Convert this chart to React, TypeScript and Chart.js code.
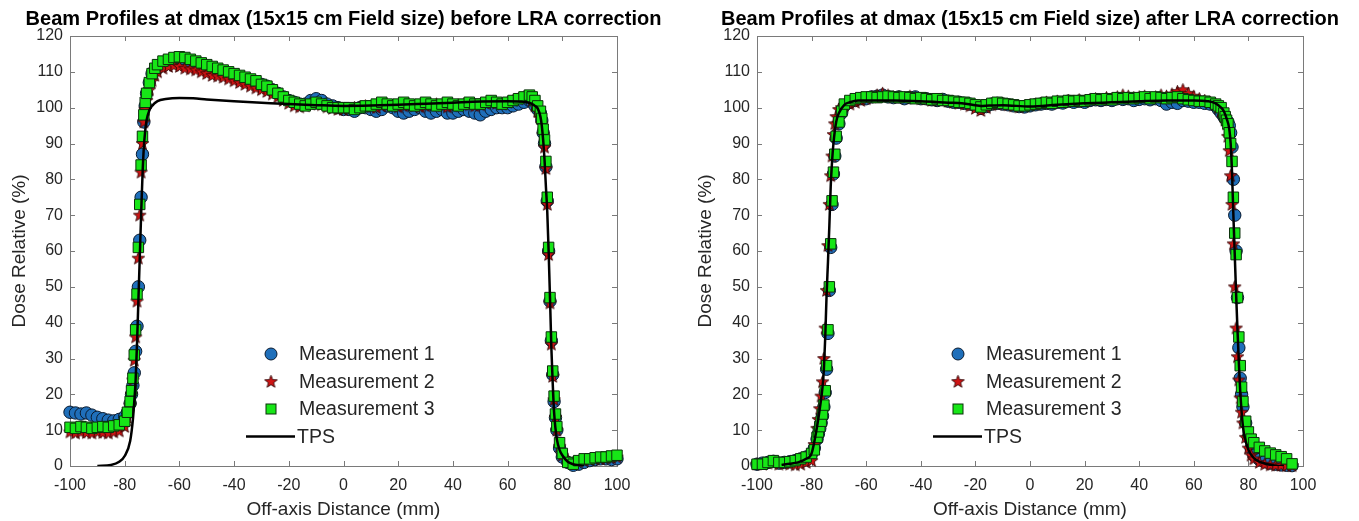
import React, { useEffect, useRef } from "react";
import { Chart, registerables } from "chart.js";
Chart.register(...registerables);

// ---------- text ----------
const titleBefore = "Beam Profiles at dmax (15x15 cm Field size) before LRA correction";
const titleAfter = "Beam Profiles at dmax (15x15 cm Field size) after LRA correction";
const xAxisTitle = "Off-axis Distance (mm)";
const yAxisTitle = "Dose Relative (%)";
const seriesNames = ["Measurement 1", "Measurement 2", "Measurement 3", "TPS"];

// ---------- ticks ----------
const xTickValues = [-100, -80, -60, -40, -20, 0, 20, 40, 60, 80, 100];
const yTickValues = [0, 10, 20, 30, 40, 50, 60, 70, 80, 90, 100, 110, 120];

// ---------- before LRA correction ----------
const beforeX = [
  -100, -98, -96, -94, -92, -90, -88, -86, -84, -82,
  -80, -79, -78,
  -77.5, -77, -76.5, -76, -75.5, -75, -74.5, -74, -73.5, -73, -72.5, -72,
  -71, -70, -69,
  -68, -66, -64, -62, -60, -58, -56, -54, -52, -50,
  -48, -46, -44, -42, -40, -38, -36, -34, -32, -30,
  -28, -26, -24, -22, -20, -18, -16, -14, -12, -10,
  -8, -6, -4, -2, 0, 2, 4, 6, 8, 10,
  12, 14, 16, 18, 20, 22, 24, 26, 28, 30,
  32, 34, 36, 38, 40, 42, 44, 46, 48, 50,
  52, 54, 56, 58, 60, 62, 64, 66, 68,
  69, 70, 71, 72,
  72.5, 73, 73.5, 74, 74.5, 75, 75.5, 76, 76.5, 77, 77.5, 78,
  79, 80,
  82, 84, 86, 88, 90, 92, 94, 96, 98, 100,
];
const beforeM1 = [
  15, 14.8, 14.5, 14.8, 14.2, 13.6, 13.2, 12.8, 12.6, 13,
  13.8, 15, 17.5,
  20, 22.5, 26, 32, 39, 50, 63, 75, 87, 96, 100.5, 104,
  107, 109.5, 110.5,
  111, 112, 112.5, 113, 113, 112.8, 112.5, 112, 111.5, 111,
  110.5, 110, 109.8, 109.5, 109, 108.5, 108, 107.5, 107, 106.5,
  106, 105, 104, 103, 102, 101.5, 101, 101, 102, 102.5,
  102, 101, 100.5, 100, 99.5, 99.5, 99, 100, 100, 99.5,
  99, 99.5, 100.5, 100, 99, 98.5, 99, 99.5, 100, 99,
  98.5, 99, 99.5, 98.5, 98.5, 99, 99.5, 99, 98.5, 98,
  99, 99.5, 100, 100, 100, 100.5, 101, 101.5, 102,
  101.5, 100.5, 99.5, 98.5,
  96.5, 93, 90, 83.5, 74, 60, 46, 35, 25.5, 18, 13.5, 10,
  5, 2.5,
  1, 0.2, 0.5, 1, 1.5, 1.8, 2, 2, 1.8, 2,
];
const beforeM2 = [
  9.5, 9.2, 9.5, 9.3, 9.2, 9.5, 9.3, 9.2, 9.5, 9.8,
  11, 13.5, 17,
  20, 24, 29.5, 36, 46, 58, 70, 82, 90, 96, 99.5, 102,
  105, 107.5, 109,
  110, 111, 111.5, 111.8, 111.5, 111, 110.8, 110.5, 110, 109.5,
  109, 108.8, 108.5, 108, 107.5, 107, 106.5, 106, 105.5, 105,
  104.5, 103.8, 103, 102, 101.2, 100.5, 100.2, 100.5, 101, 101.2,
  100.8, 100.2, 99.8, 99.5, 99.5, 99.8, 100, 100.2, 100.5, 100.2,
  100, 100.5, 100.8, 100.5, 100.2, 100.5, 100.8, 100.5, 100.2, 100.5,
  100.8, 101, 100.5, 100.2, 100.5, 100.8, 101, 100.8, 100.5, 100.8,
  101.2, 101.5, 101.2, 101, 101.5, 102, 102.5, 103, 103,
  102, 100.5, 99, 97,
  95.5, 92.5, 89, 83, 73, 59, 45.5, 34, 25, 18.5, 13.5, 10,
  5.5, 3,
  1.5, 1, 1.2, 1.5, 1.8, 2, 2, 2.2, 2.3, 2.5,
];
const beforeM3 = [
  10.8, 10.5, 11, 10.8, 10.5, 10.8, 11, 10.8, 11.2, 11.5,
  12.5, 15, 18,
  21, 24.5, 31, 38, 48, 61, 73, 84, 92, 98, 101.5, 104,
  107, 109.5, 111,
  112, 113, 113.5, 114, 114.2, 114, 113.5, 113, 112.5, 112,
  111.5, 111, 110.5, 110, 109.5, 109, 108.5, 108, 107.5, 106.5,
  106, 105, 104, 103, 102, 101.5, 101, 100.5, 101, 101.5,
  101, 100.5, 100, 100, 100, 100, 99.5, 100, 100.5, 100.5,
  101, 101.5, 101, 100.5, 101, 101.5, 101, 100.5, 101, 101.5,
  101, 100.5, 101, 101.5, 101, 100.5, 101, 101.5, 101, 101,
  101.5, 102, 101.5, 101, 101.5, 102, 102.5, 103, 103.5,
  103, 102, 100.5, 99,
  97, 94, 91, 85, 75, 61, 47, 36, 26.5, 19.5, 14.5, 11,
  6.5, 3.5,
  1, 0.5, 1.5, 2, 2, 2.3, 2.5, 2.5, 2.8, 3,
];
const beforeTpsX = [
  -90, -85, -82, -80, -78,
  -77, -76.5, -76, -75.5, -75, -74.5, -74, -73.5, -73, -72.5, -72,
  -71, -70, -68, -65, -60, -55, -50,
  -40, -30, -20, -10, 0, 10, 20, 30, 40, 50, 60,
  65, 67, 68, 69, 70, 71, 72,
  72.5, 73, 73.5, 74, 74.5, 75, 75.5, 76, 76.5, 77, 77.5, 78,
  79, 80, 82, 84, 86, 88,
];
const beforeTpsY = [
  0, 0.3, 1.2, 2.8, 7,
  13, 18, 24, 34, 46, 58, 70, 81, 89, 93.5, 96.5,
  99.2, 100.5, 101.8, 102.4, 102.7, 102.6, 102.3,
  101.8, 101.4, 101, 100.7, 100.5, 100.6, 100.8, 101.1, 101.4, 101.7, 101.8,
  101.7, 101.5, 101.3, 101, 100.5, 99.8, 97.5,
  95, 91, 85.5, 78, 71, 60, 47, 33, 23, 15, 10.5, 7.5,
  4.5, 3, 1.2, 0.5, 0.2, 0,
];

// ---------- after LRA correction ----------
const afterX = [
  -100, -98, -96, -94, -92, -90, -88, -86, -84, -82,
  -80, -79, -78,
  -77.5, -77, -76.5, -76, -75.5, -75, -74.5, -74, -73.5, -73, -72.5, -72, -71.5, -71,
  -70, -69,
  -68, -66, -64, -62, -60, -58, -56, -54, -52, -50,
  -48, -46, -44, -42, -40, -38, -36, -34, -32, -30,
  -28, -26, -24, -22, -20, -18, -16, -14, -12, -10,
  -8, -6, -4, -2, 0, 2, 4, 6, 8, 10,
  12, 14, 16, 18, 20, 22, 24, 26, 28, 30,
  32, 34, 36, 38, 40, 42, 44, 46, 48, 50,
  52, 54, 56, 58, 60, 62, 64, 66, 68,
  69, 70, 71,
  71.5, 72, 72.5, 73, 73.5, 74, 74.5, 75, 75.5, 76, 76.5, 77, 77.5, 78,
  79, 80, 81,
  82, 84, 86, 88, 90, 92, 94, 96,
];
const afterM1 = [
  0.5, 0.8, 1, 1.3, 0.8, 1, 1.2, 1.5, 2, 2.5,
  3.5, 5, 7.5,
  9, 10.5, 12, 14, 16.5, 20.5, 27, 37, 49, 61, 73, 81.5, 86.5, 91.5,
  95.5, 98.5,
  100.5, 101.5, 102, 102.5, 102.5, 103, 103.2, 103.5, 103, 102.8,
  103, 102.5, 102.8, 103, 102.5, 102.5, 102.2, 102, 102.3, 101.8,
  101.5, 101.5, 101.2, 101, 100.5, 99.8, 100.3, 101, 101.2, 101,
  100.8, 100.5, 100.3, 100.2, 100.5, 100.8, 101, 101.2, 101, 101.5,
  101.3, 101.8, 101.5, 101.8, 101.5, 102, 102.2, 102, 102.3, 102,
  102.5, 102.3, 102.5, 102, 102.3, 102.5, 102.2, 102.5, 102, 101,
  101.5, 101.2, 102, 101.8, 101.5, 101.5, 101.2, 101, 100.5,
  99.5, 98.5, 97.5,
  97, 96.5, 96, 95, 93, 89, 80, 70, 60, 47, 33, 24.5, 20, 16.5,
  12, 8, 5,
  3, 1.8, 1.2, 0.8, 0.5, 0.3, 0.2, 0.1,
];
const afterM2 = [
  0.5, 0.5, 0.8, 1, 0.5, 0.8, 0.5, 0.3, 0.5, 1,
  1.5, 6, 10.5,
  13, 16, 19.5, 23.5, 30, 38.5, 49, 61.5, 73, 81, 86.5, 92.5, 95.5, 97.5,
  99.5, 100,
  100.5, 101, 101.5, 102, 102.5, 103, 103.5, 104, 103.5, 103,
  103, 102.8, 103.2, 102.8, 102.5, 102.5, 102, 102.2, 102, 101.8,
  101.5, 101.2, 101, 100.5, 99.8, 99.2, 100, 100.8, 101, 101.2,
  100.8, 100.5, 100.2, 100.5, 100.8, 101, 101.2, 101.5, 101.2, 101.8,
  101.5, 102, 101.8, 102.2, 101.8, 102.3, 102.5, 102.2, 102.8, 102.5,
  103, 103.5, 103.2, 102.8, 103, 103.2, 102.8, 103, 103.5, 103.2,
  103.8, 104.5, 105, 104, 103.2, 102.5, 102, 101.5, 101,
  100, 99, 97.5,
  96.5, 95.5, 92, 88, 81, 73, 62, 50, 38.5, 30.5, 24, 19, 15, 12,
  8, 5, 3,
  2, 1, 0.5, 0.3, 0.2, 0.2, 0.1, 0.1,
];
const afterM3 = [
  0.5, 0.5, 1, 1.5, 1, 1, 1.2, 1.5, 2, 2.5,
  3.5, 4.5, 8,
  9.5, 11, 12.5, 14.5, 17, 21, 28, 38, 50, 62, 74, 82, 87, 92,
  96, 99,
  101, 102, 102.5, 102.8, 103, 103, 102.8, 103, 103.2, 103,
  102.8, 103, 102.8, 102.5, 102.8, 102.5, 102.2, 102.5, 102, 102,
  101.8, 101.5, 101.5, 101.2, 100.8, 100.2, 100.8, 101.2, 101.5, 101.2,
  101, 100.8, 100.5, 100.5, 100.8, 101, 101.2, 101.5, 101.2, 101.8,
  101.5, 102, 101.8, 102, 101.8, 102.2, 102.5, 102.2, 102.5, 102.2,
  102.8, 102.5, 102.8, 102.5, 102.8, 103, 102.5, 103, 102.8, 102.5,
  102.8, 103, 102.5, 102.2, 102, 101.8, 101.8, 101.5, 101,
  100.5, 100, 98.5,
  97.5, 96.5, 95.5, 93, 90, 85, 75, 65, 59, 47, 36, 28, 22, 18,
  12.5, 9.5, 7.5,
  6.5, 5.2, 4.2, 3.6, 3.1, 2.6, 2, 0.6,
];
const afterTpsX = [
  -91, -88, -85, -82, -80, -78,
  -77, -76, -75.5, -75, -74.5, -74, -73.5, -73, -72.5, -72,
  -71, -70, -68, -66, -63, -60,
  -50, -40, -30, -25, -20, -18, -15, -10,
  0, 10, 20, 30, 40, 50, 60,
  65, 68, 70, 71, 72, 73,
  73.5, 74, 74.5, 75, 75.5, 76, 76.5, 77,
  78, 79, 80, 82, 84, 87, 90, 93,
];
const afterTpsY = [
  0.3, 0.6, 1, 2, 3.5, 11,
  16, 22, 27, 36, 48, 57, 67, 78, 85, 90,
  96, 98.5, 100.8, 101.5, 102, 102,
  102, 101.8, 101.4, 101.2, 100.7, 100.5, 100.6, 100.7,
  100.3, 100.8, 101.2, 101.5, 101.8, 102, 102,
  101.8, 101.2, 100, 99, 97, 94,
  90, 82, 70, 59, 48, 38, 29, 21,
  11, 7, 4.5, 2.2, 1.2, 0.5, 0.1, 0,
];

// ---------- styling ----------
const FONT = '"Liberation Sans", Arial, Helvetica, sans-serif';
const TEXT = "#262626";
const AXIS = "#7a7a7a";
const BLUE = "#1f6fba";
const GREEN = "#17e617";
const RED = "#cf1414";
const BLUE_EDGE = "#0a1a2e";
const GREEN_EDGE = "#0b300b";

function makeStar(): HTMLCanvasElement {
  const c = document.createElement("canvas");
  c.width = 15;
  c.height = 15;
  const g = c.getContext("2d")!;
  const cx = 7.5, cy = 7.9, R = 6.6, r = 2.8;
  g.beginPath();
  for (let i = 0; i < 10; i++) {
    const rad = i % 2 === 0 ? R : r;
    const a = -Math.PI / 2 + (i * Math.PI) / 5;
    const px = cx + rad * Math.cos(a);
    const py = cy + rad * Math.sin(a);
    if (i === 0) g.moveTo(px, py);
    else g.lineTo(px, py);
  }
  g.closePath();
  g.fillStyle = RED;
  g.fill();
  g.lineWidth = 0.9;
  g.strokeStyle = "#320404";
  g.stroke();
  return c;
}

type Panel = {
  title: string;
  mx: number[];
  m1: number[];
  m2: number[];
  m3: number[];
  tx: number[];
  ty: number[];
  yScaleWidth: number;
  rightPad: number;
  yTitlePad: number;
};

const pts = (xs: number[], ys: number[]) => xs.map((x, i) => ({ x, y: ys[i] }));

function buildConfig(p: Panel, star: HTMLCanvasElement): any {
  const framePlugin = {
    id: "frameTicks",
    beforeDatasetsDraw(chart: any) {
      const { ctx, chartArea: a, scales } = chart;
      ctx.save();
      ctx.strokeStyle = AXIS;
      ctx.lineWidth = 1;
      ctx.strokeRect(Math.round(a.left) + 0.5, Math.round(a.top) + 0.5, Math.round(a.right - a.left), Math.round(a.bottom - a.top));
      const tl = 5;
      ctx.beginPath();
      for (const v of xTickValues) {
        const px = Math.round(scales.x.getPixelForValue(v)) + 0.5;
        ctx.moveTo(px, a.bottom);
        ctx.lineTo(px, a.bottom - tl);
        ctx.moveTo(px, a.top);
        ctx.lineTo(px, a.top + tl);
      }
      for (const v of yTickValues) {
        const py = Math.round(scales.y.getPixelForValue(v)) + 0.5;
        ctx.moveTo(a.left, py);
        ctx.lineTo(a.left + tl, py);
        ctx.moveTo(a.right, py);
        ctx.lineTo(a.right - tl, py);
      }
      ctx.stroke();
      ctx.restore();
    },
    afterDraw(chart: any) {
      const { ctx, chartArea: a } = chart;
      ctx.save();
      // title
      ctx.fillStyle = "#000";
      ctx.font = `bold 20px ${FONT}`;
      ctx.textAlign = "center";
      ctx.textBaseline = "middle";
      ctx.fillText(p.title, (a.left + a.right) / 2, 19);
      // legend
      const cx = a.left + 201;
      const rows = [354, 381.5, 409, 436.5];
      ctx.font = `19.5px ${FONT}`;
      ctx.textAlign = "left";
      // circle
      ctx.beginPath();
      ctx.arc(cx, rows[0], 6, 0, Math.PI * 2);
      ctx.fillStyle = BLUE;
      ctx.fill();
      ctx.lineWidth = 1;
      ctx.strokeStyle = BLUE_EDGE;
      ctx.stroke();
      // star
      ctx.drawImage(star, cx - star.width / 2, rows[1] - star.height / 2);
      // square
      ctx.fillStyle = GREEN;
      ctx.fillRect(cx - 5, rows[2] - 5, 10, 10);
      ctx.strokeStyle = GREEN_EDGE;
      ctx.lineWidth = 1;
      ctx.strokeRect(cx - 5, rows[2] - 5, 10, 10);
      // line
      ctx.beginPath();
      ctx.moveTo(cx - 25, rows[3]);
      ctx.lineTo(cx + 24, rows[3]);
      ctx.strokeStyle = "#000";
      ctx.lineWidth = 2.5;
      ctx.stroke();
      ctx.fillStyle = TEXT;
      for (let i = 0; i < 3; i++) ctx.fillText(seriesNames[i], cx + 28, rows[i] + 1);
      ctx.fillText(seriesNames[3], cx + 26, rows[3] + 1);
      ctx.restore();
    },
  };

  return {
    type: "scatter",
    data: {
      datasets: [
        {
          label: seriesNames[0],
          data: pts(p.mx, p.m1),
          pointStyle: "circle",
          pointRadius: 6.2,
          backgroundColor: BLUE,
          borderColor: BLUE_EDGE,
          borderWidth: 1,
          order: 3,
          clip: false,
        },
        {
          label: seriesNames[1],
          data: pts(p.mx, p.m2),
          pointStyle: star,
          pointRadius: 6,
          backgroundColor: RED,
          borderColor: "#320404",
          order: 2,
          clip: false,
        },
        {
          label: seriesNames[2],
          data: pts(p.mx, p.m3),
          pointStyle: "rect",
          pointRadius: 7.4,
          backgroundColor: GREEN,
          borderColor: GREEN_EDGE,
          borderWidth: 1,
          order: 1,
          clip: false,
        },
        {
          label: seriesNames[3],
          data: pts(p.tx, p.ty),
          showLine: true,
          pointRadius: 0,
          borderColor: "#000",
          borderWidth: 2.5,
          cubicInterpolationMode: "monotone",
          fill: false,
          order: 0,
        },
      ],
    },
    options: {
      responsive: false,
      animation: false,
      events: [],
      layout: { padding: { top: 36, right: p.rightPad, left: 0, bottom: 0 } },
      font: { family: FONT },
      plugins: {
        legend: { display: false },
        title: { display: false },
        tooltip: { enabled: false },
      },
      scales: {
        x: {
          type: "linear",
          position: "bottom",
          min: -100,
          max: 100,
          grid: { display: false, drawTicks: false },
          border: { display: false },
          ticks: {
            padding: 10,
            color: TEXT,
            font: { family: FONT, size: 16 },
            callback: (v: any) => String(v),
          },
          afterBuildTicks: (s: any) => {
            s.ticks = xTickValues.map((v) => ({ value: v }));
          },
          afterFit: (s: any) => {
            s.height = 55;
            s.paddingLeft = 0;
            s.paddingRight = 0;
          },
          title: {
            display: true,
            text: xAxisTitle,
            color: TEXT,
            font: { family: FONT, size: 19 },
            padding: { top: 0, bottom: 0 },
          },
        },
        y: {
          type: "linear",
          min: 0,
          max: 120,
          grid: { display: false, drawTicks: false },
          border: { display: false },
          ticks: {
            padding: 7,
            color: TEXT,
            font: { family: FONT, size: 16 },
            callback: (v: any) => String(v),
          },
          afterBuildTicks: (s: any) => {
            s.ticks = yTickValues.map((v) => ({ value: v }));
          },
          afterFit: (s: any) => {
            s.width = p.yScaleWidth;
            s.paddingTop = 0;
            s.paddingBottom = 0;
          },
          title: {
            display: true,
            text: yAxisTitle,
            color: TEXT,
            font: { family: FONT, size: 19 },
            padding: { top: p.yTitlePad, bottom: 0 },
          },
        },
      },
    },
    plugins: [framePlugin],
  };
}

function ChartPanel({ panel, left, width }: { panel: Panel; left: number; width: number }) {
  const ref = useRef<HTMLCanvasElement>(null);
  useEffect(() => {
    if (!ref.current) return;
    const star = makeStar();
    const chart = new Chart(ref.current, buildConfig(panel, star));
    return () => chart.destroy();
  }, [panel]);
  return (
    <canvas
      ref={ref}
      width={width}
      height={521}
      style={{ position: "absolute", left, top: 0, width, height: 521, display: "block" }}
    />
  );
}

const beforePanel: Panel = {
  title: titleBefore,
  mx: beforeX,
  m1: beforeM1,
  m2: beforeM2,
  m3: beforeM3,
  tx: beforeTpsX,
  ty: beforeTpsY,
  yScaleWidth: 70,
  rightPad: 63,
  yTitlePad: 8.6,
};
const afterPanel: Panel = {
  title: titleAfter,
  mx: afterX,
  m1: afterM1,
  m2: afterM2,
  m3: afterM3,
  tx: afterTpsX,
  ty: afterTpsY,
  yScaleWidth: 77,
  rightPad: 56,
  yTitlePad: 14.6,
};

export default function App() {
  return (
    <div style={{ position: "fixed", left: 0, top: 0, width: 1359, height: 521, background: "#fff", overflow: "hidden" }}>
      <ChartPanel panel={beforePanel} left={0} width={680} />
      <ChartPanel panel={afterPanel} left={680} width={679} />
    </div>
  );
}
